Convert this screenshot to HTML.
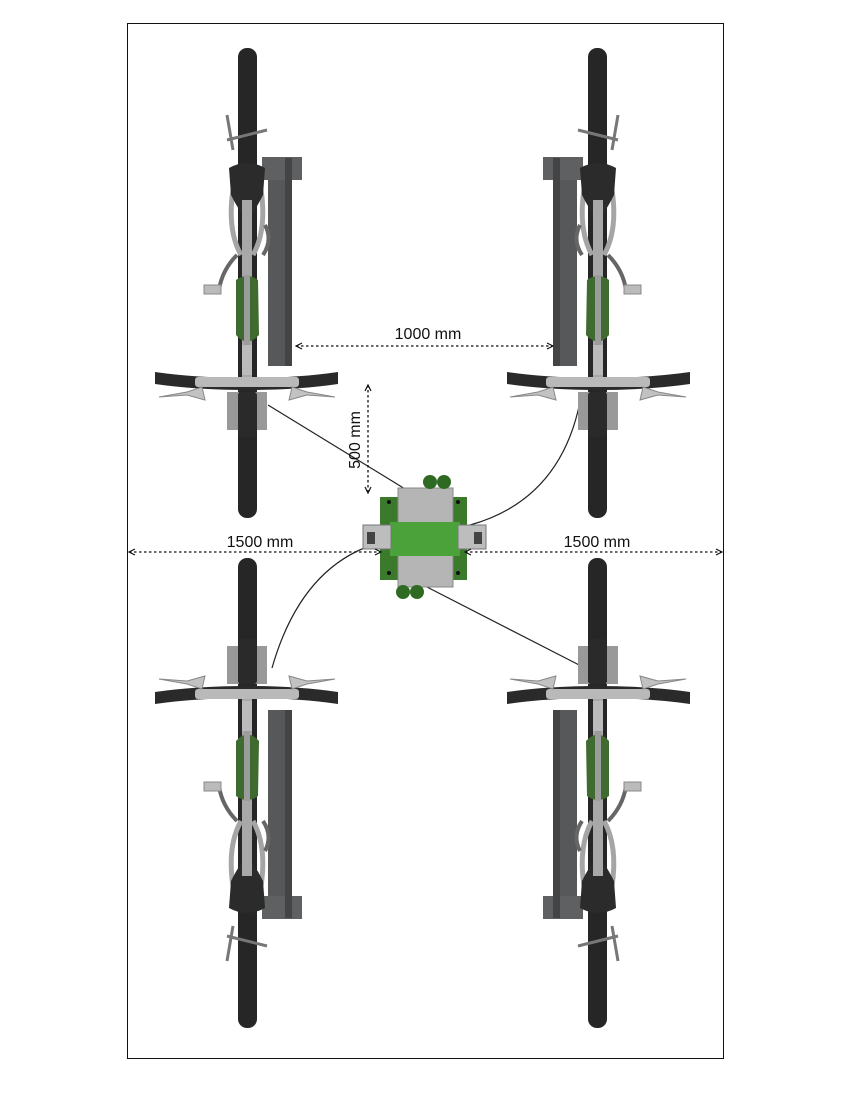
<!DOCTYPE html>
<html><head><meta charset="utf-8"><style>
html,body{margin:0;padding:0;background:#fff;}
svg{display:block;}
text{font-family:"Liberation Sans",sans-serif;font-size:16px;fill:#111;}
</style></head><body>
<svg width="859" height="1100" viewBox="0 0 859 1100" xmlns="http://www.w3.org/2000/svg">
<defs>
<marker id="ah" markerWidth="8" markerHeight="8" refX="7" refY="4" orient="auto-start-reverse" markerUnits="userSpaceOnUse">
<path d="M1,1 L7,4 L1,7" fill="none" stroke="#111" stroke-width="1.2"/>
</marker>
<g id="bike">
 <rect x="21" y="158" width="24" height="208" fill="#56585a"/>
 <rect x="15" y="157" width="40" height="23" fill="#5e6062"/>
 <rect x="38" y="158" width="7" height="208" fill="#444"/>
 <rect x="-9" y="48" width="19" height="470" rx="9" fill="#262626"/>
 <path d="M-20,115 L-14,150 M20,130 L-20,140" stroke="#777" stroke-width="3" fill="none"/>
 <path d="M-14,190 Q-20,230 -6,255 M14,190 Q20,230 6,255" stroke="#a5a5a5" stroke-width="5" fill="none"/>
 <path d="M18,225 Q26,240 16,255 M-10,255 Q-25,270 -28,290" stroke="#666" stroke-width="4" fill="none"/>
 <path d="M-18,168 Q0,158 18,168 L16,195 Q6,215 0,218 Q-6,215 -16,195 Z" fill="#2b2b2b"/>
 <rect x="-43" y="285" width="17" height="9" fill="#bbb" stroke="#888"/>
 <rect x="-5" y="200" width="10" height="180" fill="#a8a8a8"/>
 <path d="M-11,280 Q0,272 11,280 L12,335 Q0,348 -11,335 Z" fill="#3f6a30"/>
 <rect x="-3" y="275" width="6" height="80" fill="#9c9c9c"/>
 <rect x="-5" y="345" width="10" height="30" fill="#bbb"/>
 <rect x="-20" y="392" width="12" height="38" fill="#999"/>
 <rect x="8" y="392" width="12" height="38" fill="#999"/>
 <rect x="-9" y="392" width="19" height="45" rx="3" fill="#2a2a2a"/>
 <path d="M-92,372 Q-50,378 0,378 Q50,378 91,372 L91,384 Q50,390 0,390 Q-50,390 -92,384 Z" fill="#2a2a2a"/>
 <rect x="-52" y="377" width="104" height="10" rx="3" fill="#b9b9b9"/>
 <path d="M-45,387 L-60,392 L-88,397 L-60,395 L-42,400 Z" fill="#c2c2c2" stroke="#888" stroke-width="1"/>
 <path d="M45,387 L60,392 L88,397 L60,395 L42,400 Z" fill="#c2c2c2" stroke="#888" stroke-width="1"/>
</g>
</defs>

<rect x="127.5" y="23.5" width="596" height="1035" fill="none" stroke="#111" stroke-width="1"/>

<path d="M268,405 L410,492" stroke="#222" stroke-width="1.2" fill="none"/>
<path d="M580,402 Q560,500 470,525" stroke="#222" stroke-width="1.2" fill="none"/>
<path d="M272,668 Q300,570 372,545" stroke="#222" stroke-width="1.2" fill="none"/>
<path d="M425,586 L585,668" stroke="#222" stroke-width="1.2" fill="none"/>

<use href="#bike" transform="translate(247,0)"/>
<use href="#bike" transform="translate(598,0) scale(-1,1)"/>
<use href="#bike" transform="translate(247,1076) scale(1,-1)"/>
<use href="#bike" transform="translate(598,1076) scale(-1,-1)"/>

<g>
 <rect x="380" y="497" width="87" height="83" fill="#3a7a2a"/>
 <rect x="398" y="488" width="55" height="35" fill="#b5b5b5" stroke="#888"/>
 <rect x="398" y="555" width="55" height="32" fill="#b5b5b5" stroke="#888"/>
 <rect x="390" y="522" width="70" height="34" fill="#4ca23a"/>
 <rect x="363" y="525" width="28" height="24" fill="#bdbdbd" stroke="#777"/>
 <rect x="458" y="525" width="28" height="24" fill="#bdbdbd" stroke="#777"/>
 <rect x="367" y="532" width="8" height="12" fill="#444"/>
 <rect x="474" y="532" width="8" height="12" fill="#444"/>
 <circle cx="430" cy="482" r="7" fill="#2f6a22"/>
 <circle cx="444" cy="482" r="7" fill="#2f6a22"/>
 <circle cx="403" cy="592" r="7" fill="#2f6a22"/>
 <circle cx="417" cy="592" r="7" fill="#2f6a22"/>
 <circle cx="389" cy="502" r="2" fill="#111"/><circle cx="458" cy="502" r="2" fill="#111"/>
 <circle cx="389" cy="573" r="2" fill="#111"/><circle cx="458" cy="573" r="2" fill="#111"/>
</g>

<g stroke="#111" stroke-width="1.3" stroke-dasharray="2.5,2.5" fill="none">
 <line x1="296" y1="346" x2="553" y2="346" marker-start="url(#ah)" marker-end="url(#ah)"/>
 <line x1="368" y1="385" x2="368" y2="493" marker-start="url(#ah)" marker-end="url(#ah)"/>
 <line x1="129" y1="552" x2="381" y2="552" marker-start="url(#ah)" marker-end="url(#ah)"/>
 <line x1="465" y1="552" x2="722" y2="552" marker-start="url(#ah)" marker-end="url(#ah)"/>
</g>
<text x="428" y="339" text-anchor="middle">1000 mm</text>
<text x="260" y="547" text-anchor="middle">1500 mm</text>
<text x="597" y="547" text-anchor="middle">1500 mm</text>
<text transform="translate(360,440) rotate(-90)" text-anchor="middle">500 mm</text>
</svg>
</body></html>
